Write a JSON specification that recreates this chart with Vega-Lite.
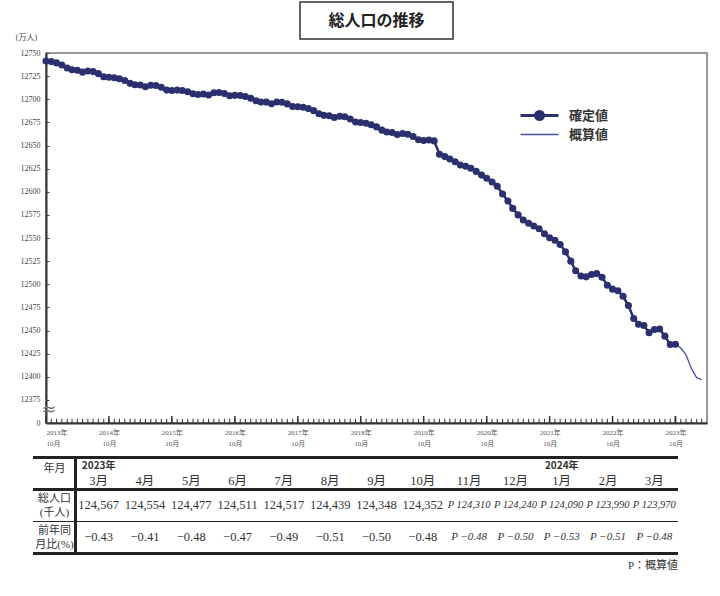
{
  "$schema": "https://vega.github.io/schema/vega-lite/v6.json",
  "background": "white",
  "padding": {"left": 14, "top": 1, "right": 8, "bottom": 4},
  "bounds": "flush",
  "center": true,
  "spacing": 14,
  "config": {
    "view": {"stroke": null},
    "font": "Liberation Serif, Noto Sans CJK JP",
    "text": {"font": "Liberation Serif, Noto Sans CJK JP", "color": "#333"}
  },
  "vconcat": [
    {
      "width": 153,
      "height": 37,
      "view": {"stroke": "#333", "strokeWidth": 1.5, "fill": "white"},
      "data": {"values": [{"t": "総人口の推移"}]},
      "mark": {"type": "text", "font": "Noto Sans CJK JP", "fontSize": 16, "fontWeight": "bold", "color": "#222", "baseline": "middle"},
      "encoding": {"text": {"field": "t"}}
    },
    {
      "width": 661,
      "height": 370,
      "view": {"stroke": "#777", "strokeWidth": 1.5},
      "data": {
        "format": {"parse": {"date": "date"}},
        "values": [
          {"date": "2013-10-01", "v": 12741.4, "kind": "確定値"},
          {"date": "2013-11-01", "v": 12740.7, "kind": "確定値"},
          {"date": "2013-12-01", "v": 12739.3, "kind": "確定値"},
          {"date": "2014-01-01", "v": 12737.0, "kind": "確定値"},
          {"date": "2014-02-01", "v": 12733.7, "kind": "確定値"},
          {"date": "2014-03-01", "v": 12731.8, "kind": "確定値"},
          {"date": "2014-04-01", "v": 12731.4, "kind": "確定値"},
          {"date": "2014-05-01", "v": 12729.3, "kind": "確定値"},
          {"date": "2014-06-01", "v": 12730.6, "kind": "確定値"},
          {"date": "2014-07-01", "v": 12729.9, "kind": "確定値"},
          {"date": "2014-08-01", "v": 12727.7, "kind": "確定値"},
          {"date": "2014-09-01", "v": 12724.4, "kind": "確定値"},
          {"date": "2014-10-01", "v": 12723.7, "kind": "確定値"},
          {"date": "2014-11-01", "v": 12723.3, "kind": "確定値"},
          {"date": "2014-12-01", "v": 12722.1, "kind": "確定値"},
          {"date": "2015-01-01", "v": 12720.2, "kind": "確定値"},
          {"date": "2015-02-01", "v": 12717.2, "kind": "確定値"},
          {"date": "2015-03-01", "v": 12715.6, "kind": "確定値"},
          {"date": "2015-04-01", "v": 12715.4, "kind": "確定値"},
          {"date": "2015-05-01", "v": 12713.6, "kind": "確定値"},
          {"date": "2015-06-01", "v": 12715.2, "kind": "確定値"},
          {"date": "2015-07-01", "v": 12714.9, "kind": "確定値"},
          {"date": "2015-08-01", "v": 12712.9, "kind": "確定値"},
          {"date": "2015-09-01", "v": 12709.9, "kind": "確定値"},
          {"date": "2015-10-01", "v": 12709.5, "kind": "確定値"},
          {"date": "2015-11-01", "v": 12709.9, "kind": "確定値"},
          {"date": "2015-12-01", "v": 12709.4, "kind": "確定値"},
          {"date": "2016-01-01", "v": 12708.2, "kind": "確定値"},
          {"date": "2016-02-01", "v": 12705.9, "kind": "確定値"},
          {"date": "2016-03-01", "v": 12705.1, "kind": "確定値"},
          {"date": "2016-04-01", "v": 12705.6, "kind": "確定値"},
          {"date": "2016-05-01", "v": 12704.6, "kind": "確定値"},
          {"date": "2016-06-01", "v": 12707.0, "kind": "確定値"},
          {"date": "2016-07-01", "v": 12707.3, "kind": "確定値"},
          {"date": "2016-08-01", "v": 12706.1, "kind": "確定値"},
          {"date": "2016-09-01", "v": 12703.8, "kind": "確定値"},
          {"date": "2016-10-01", "v": 12704.2, "kind": "確定値"},
          {"date": "2016-11-01", "v": 12704.0, "kind": "確定値"},
          {"date": "2016-12-01", "v": 12703.0, "kind": "確定値"},
          {"date": "2017-01-01", "v": 12701.1, "kind": "確定値"},
          {"date": "2017-02-01", "v": 12698.3, "kind": "確定値"},
          {"date": "2017-03-01", "v": 12696.9, "kind": "確定値"},
          {"date": "2017-04-01", "v": 12696.9, "kind": "確定値"},
          {"date": "2017-05-01", "v": 12695.2, "kind": "確定値"},
          {"date": "2017-06-01", "v": 12697.0, "kind": "確定値"},
          {"date": "2017-07-01", "v": 12696.8, "kind": "確定値"},
          {"date": "2017-08-01", "v": 12695.0, "kind": "確定値"},
          {"date": "2017-09-01", "v": 12692.1, "kind": "確定値"},
          {"date": "2017-10-01", "v": 12691.9, "kind": "確定値"},
          {"date": "2017-11-01", "v": 12691.3, "kind": "確定値"},
          {"date": "2017-12-01", "v": 12689.9, "kind": "確定値"},
          {"date": "2018-01-01", "v": 12687.7, "kind": "確定値"},
          {"date": "2018-02-01", "v": 12684.4, "kind": "確定値"},
          {"date": "2018-03-01", "v": 12682.6, "kind": "確定値"},
          {"date": "2018-04-01", "v": 12682.2, "kind": "確定値"},
          {"date": "2018-05-01", "v": 12680.2, "kind": "確定値"},
          {"date": "2018-06-01", "v": 12681.6, "kind": "確定値"},
          {"date": "2018-07-01", "v": 12681.0, "kind": "確定値"},
          {"date": "2018-08-01", "v": 12678.7, "kind": "確定値"},
          {"date": "2018-09-01", "v": 12675.5, "kind": "確定値"},
          {"date": "2018-10-01", "v": 12674.9, "kind": "確定値"},
          {"date": "2018-11-01", "v": 12674.1, "kind": "確定値"},
          {"date": "2018-12-01", "v": 12672.5, "kind": "確定値"},
          {"date": "2019-01-01", "v": 12670.1, "kind": "確定値"},
          {"date": "2019-02-01", "v": 12666.6, "kind": "確定値"},
          {"date": "2019-03-01", "v": 12664.6, "kind": "確定値"},
          {"date": "2019-04-01", "v": 12664.0, "kind": "確定値"},
          {"date": "2019-05-01", "v": 12661.8, "kind": "確定値"},
          {"date": "2019-06-01", "v": 12663.0, "kind": "確定値"},
          {"date": "2019-07-01", "v": 12662.2, "kind": "確定値"},
          {"date": "2019-08-01", "v": 12659.7, "kind": "確定値"},
          {"date": "2019-09-01", "v": 12656.3, "kind": "確定値"},
          {"date": "2019-10-01", "v": 12655.5, "kind": "確定値"},
          {"date": "2019-11-01", "v": 12656.0, "kind": "確定値"},
          {"date": "2019-12-01", "v": 12655.0, "kind": "確定値"},
          {"date": "2020-01-01", "v": 12640.5, "kind": "確定値"},
          {"date": "2020-02-01", "v": 12638.0, "kind": "確定値"},
          {"date": "2020-03-01", "v": 12635.5, "kind": "確定値"},
          {"date": "2020-04-01", "v": 12632.5, "kind": "確定値"},
          {"date": "2020-05-01", "v": 12629.0, "kind": "確定値"},
          {"date": "2020-06-01", "v": 12627.5, "kind": "確定値"},
          {"date": "2020-07-01", "v": 12625.5, "kind": "確定値"},
          {"date": "2020-08-01", "v": 12622.0, "kind": "確定値"},
          {"date": "2020-09-01", "v": 12618.0, "kind": "確定値"},
          {"date": "2020-10-01", "v": 12614.6, "kind": "確定値"},
          {"date": "2020-11-01", "v": 12610.5, "kind": "確定値"},
          {"date": "2020-12-01", "v": 12606.0, "kind": "確定値"},
          {"date": "2021-01-01", "v": 12597.5, "kind": "確定値"},
          {"date": "2021-02-01", "v": 12590.0, "kind": "確定値"},
          {"date": "2021-03-01", "v": 12582.0, "kind": "確定値"},
          {"date": "2021-04-01", "v": 12575.0, "kind": "確定値"},
          {"date": "2021-05-01", "v": 12569.5, "kind": "確定値"},
          {"date": "2021-06-01", "v": 12566.0, "kind": "確定値"},
          {"date": "2021-07-01", "v": 12563.0, "kind": "確定値"},
          {"date": "2021-08-01", "v": 12560.0, "kind": "確定値"},
          {"date": "2021-09-01", "v": 12554.5, "kind": "確定値"},
          {"date": "2021-10-01", "v": 12550.2, "kind": "確定値"},
          {"date": "2021-11-01", "v": 12547.5, "kind": "確定値"},
          {"date": "2021-12-01", "v": 12543.0, "kind": "確定値"},
          {"date": "2022-01-01", "v": 12535.0, "kind": "確定値"},
          {"date": "2022-02-01", "v": 12525.0, "kind": "確定値"},
          {"date": "2022-03-01", "v": 12514.5, "kind": "確定値"},
          {"date": "2022-04-01", "v": 12509.0, "kind": "確定値"},
          {"date": "2022-05-01", "v": 12508.0, "kind": "確定値"},
          {"date": "2022-06-01", "v": 12510.5, "kind": "確定値"},
          {"date": "2022-07-01", "v": 12511.5, "kind": "確定値"},
          {"date": "2022-08-01", "v": 12507.5, "kind": "確定値"},
          {"date": "2022-09-01", "v": 12499.0, "kind": "確定値"},
          {"date": "2022-10-01", "v": 12494.7, "kind": "確定値"},
          {"date": "2022-11-01", "v": 12493.0, "kind": "確定値"},
          {"date": "2022-12-01", "v": 12487.0, "kind": "確定値"},
          {"date": "2023-01-01", "v": 12477.0, "kind": "確定値"},
          {"date": "2023-02-01", "v": 12463.0, "kind": "確定値"},
          {"date": "2023-03-01", "v": 12456.7, "kind": "確定値"},
          {"date": "2023-04-01", "v": 12455.4, "kind": "確定値"},
          {"date": "2023-05-01", "v": 12447.7, "kind": "確定値"},
          {"date": "2023-06-01", "v": 12451.1, "kind": "確定値"},
          {"date": "2023-07-01", "v": 12451.7, "kind": "確定値"},
          {"date": "2023-08-01", "v": 12443.9, "kind": "確定値"},
          {"date": "2023-09-01", "v": 12434.8, "kind": "確定値"},
          {"date": "2023-10-01", "v": 12435.2, "kind": "確定値"},
          {"date": "2023-10-01", "v": 12435.2, "kind": "概算値"},
          {"date": "2023-11-01", "v": 12431.0, "kind": "概算値"},
          {"date": "2023-12-01", "v": 12424.0, "kind": "概算値"},
          {"date": "2024-01-01", "v": 12409.0, "kind": "概算値"},
          {"date": "2024-02-01", "v": 12399.0, "kind": "概算値"},
          {"date": "2024-03-01", "v": 12397.0, "kind": "概算値"}
        ]
      },
      "encoding": {
        "x": {
          "field": "date",
          "type": "temporal",
          "title": null,
          "scale": {
            "type": "utc",
            "nice": false,
            "domain": [
              {"year": 2013, "month": 10, "date": 1, "utc": true},
              {"year": 2024, "month": 4, "date": 1, "utc": true}
            ]
          },
          "axis": {
            "title": null,
            "grid": false,
            "ticks": false,
            "domainColor": "#333",
            "domainWidth": 2,
            "values": [
              {"year": 2013, "month": 10, "date": 1, "utc": true},
              {"year": 2014, "month": 10, "date": 1, "utc": true},
              {"year": 2015, "month": 10, "date": 1, "utc": true},
              {"year": 2016, "month": 10, "date": 1, "utc": true},
              {"year": 2017, "month": 10, "date": 1, "utc": true},
              {"year": 2018, "month": 10, "date": 1, "utc": true},
              {"year": 2019, "month": 10, "date": 1, "utc": true},
              {"year": 2020, "month": 10, "date": 1, "utc": true},
              {"year": 2021, "month": 10, "date": 1, "utc": true},
              {"year": 2022, "month": 10, "date": 1, "utc": true},
              {"year": 2023, "month": 10, "date": 1, "utc": true}
            ],
            "labelExpr": "[utcFormat(datum.value, '%Y') + '年', '10月']",
            "labelFont": "Liberation Serif, Noto Sans CJK JP",
            "labelFontSize": 7,
            "labelColor": "#555",
            "labelPadding": 5,
            "labelLineHeight": 11,
            "labelOverlap": false
          }
        },
        "y": {
          "field": "v",
          "type": "quantitative",
          "title": "(万人)",
          "scale": {"domain": [12350, 12750], "nice": false, "zero": false},
          "axis": {
            "values": [12350, 12375, 12400, 12425, 12450, 12475, 12500, 12525, 12550, 12575, 12600, 12625, 12650, 12675, 12700, 12725, 12750],
            "labelExpr": "datum.value == 12350 ? '0' : '' + datum.value",
            "grid": false,
            "tickSize": -3,
            "tickColor": "#444",
            "labelPadding": 9,
            "domainColor": "#333",
            "domainWidth": 2,
            "labelFont": "Liberation Serif",
            "labelFontSize": 8,
            "labelColor": "#444",
            "title": "(万人)",
            "titleAngle": 0,
            "titleFont": "Liberation Serif, Noto Sans CJK JP",
            "titleFontSize": 8,
            "titleFontWeight": "normal",
            "titleColor": "#444",
            "titleAlign": "center",
            "titleBaseline": "middle",
            "titleX": -20,
            "titleY": -16
          }
        }
      },
      "layer": [
        {
          "mark": {"type": "rule", "color": "#333", "strokeWidth": 1},
          "encoding": {
            "y": {"datum": 12350, "type": "quantitative", "title": "(万人)"},
            "y2": {"datum": 12354.5}
          }
        },
        {
          "transform": [{"filter": "utcmonth(datum.date) == 9"}],
          "mark": {"type": "rule", "color": "#333", "strokeWidth": 1.5},
          "encoding": {
            "y": {"datum": 12350, "type": "quantitative", "title": "(万人)"},
            "y2": {"datum": 12357.5}
          }
        },
        {
          "transform": [{"filter": "datum.kind == '概算値'"}],
          "mark": {"type": "line", "strokeWidth": 1.3},
          "encoding": {
            "color": {
              "field": "kind",
              "type": "nominal",
              "scale": {"domain": ["確定値", "概算値"], "range": ["#2b2f6e", "#4a4f9e"]},
              "legend": {
                "orient": "none",
                "legendX": 487,
                "legendY": 107,
                "title": null,
                "labelFont": "Noto Sans CJK JP",
                "labelFontSize": 13,
                "labelFontWeight": "bold",
                "labelColor": "#333",
                "labelOffset": 23,
                "labelBaseline": "middle",
                "rowPadding": 2,
                "symbolSize": 1444,
                "encode": {
                  "symbols": {
                    "update": {
                      "shape": {"signal": "datum.value === '確定値' ? 'M-1,0L1,0M0.21,0A0.21,0.21,0,1,1,-0.21,0A0.21,0.21,0,1,1,0.21,0' : 'M-1,0L1,0'"},
                      "fill": {"signal": "datum.value === '確定値' ? '#2b2f6e' : 'transparent'"},
                      "stroke": {"signal": "datum.value === '確定値' ? '#2b2f6e' : '#5a5ea6'"},
                      "strokeWidth": {"signal": "datum.value === '確定値' ? 3 : 1.3"},
                      "opacity": {"value": 1}
                    }
                  }
                }
              }
            }
          }
        },
        {
          "transform": [{"filter": "datum.kind == '確定値'"}],
          "mark": {"type": "line", "strokeWidth": 2.5},
          "encoding": {"color": {"field": "kind", "type": "nominal"}}
        },
        {
          "transform": [{"filter": "datum.kind == '確定値'"}],
          "mark": {"type": "point", "filled": true, "size": 50, "opacity": 1},
          "encoding": {"color": {"field": "kind", "type": "nominal"}}
        },
        {
          "transform": [{"filter": "datum.kind == '確定値' && utcyear(datum.date) == 2013 && utcmonth(datum.date) == 9"}],
          "mark": {"type": "text", "fontSize": 18, "color": "#777", "font": "DejaVu Sans", "dx": 3, "text": "≈"},
          "encoding": {
            "y": {"datum": 12364, "type": "quantitative", "title": "(万人)"}
          }
        }
      ]
    },
    {
      "width": 602,
      "height": 116,
      "data": {
        "values": [
          {"col": "2023-03", "yr": "2023年", "m": "3月", "pop": "124,567", "chg": "−0.43", "p": false},
          {"col": "2023-04", "yr": "", "m": "4月", "pop": "124,554", "chg": "−0.41", "p": false},
          {"col": "2023-05", "yr": "", "m": "5月", "pop": "124,477", "chg": "−0.48", "p": false},
          {"col": "2023-06", "yr": "", "m": "6月", "pop": "124,511", "chg": "−0.47", "p": false},
          {"col": "2023-07", "yr": "", "m": "7月", "pop": "124,517", "chg": "−0.49", "p": false},
          {"col": "2023-08", "yr": "", "m": "8月", "pop": "124,439", "chg": "−0.51", "p": false},
          {"col": "2023-09", "yr": "", "m": "9月", "pop": "124,348", "chg": "−0.50", "p": false},
          {"col": "2023-10", "yr": "", "m": "10月", "pop": "124,352", "chg": "−0.48", "p": false},
          {"col": "2023-11", "yr": "", "m": "11月", "pop": "P 124,310", "chg": "P −0.48", "p": true},
          {"col": "2023-12", "yr": "", "m": "12月", "pop": "P 124,240", "chg": "P −0.50", "p": true},
          {"col": "2024-01", "yr": "2024年", "m": "1月", "pop": "P 124,090", "chg": "P −0.53", "p": true},
          {"col": "2024-02", "yr": "", "m": "2月", "pop": "P 123,990", "chg": "P −0.51", "p": true},
          {"col": "2024-03", "yr": "", "m": "3月", "pop": "P 123,970", "chg": "P −0.48", "p": true}
        ]
      },
      "encoding": {
        "x": {
          "field": "col",
          "type": "ordinal",
          "title": "P：概算値",
          "scale": {
            "domain": ["2023-03", "2023-04", "2023-05", "2023-06", "2023-07", "2023-08", "2023-09", "2023-10", "2023-11", "2023-12", "2024-01", "2024-02", "2024-03"],
            "paddingInner": 0,
            "paddingOuter": 0
          },
          "axis": {
            "labels": false,
            "ticks": false,
            "domain": false,
            "grid": false,
            "title": "P：概算値",
            "titleAnchor": "end",
            "titleFont": "Liberation Serif, Noto Sans CJK JP",
            "titleFontSize": 11,
            "titleFontWeight": "normal",
            "titleColor": "#333",
            "titlePadding": 6
          }
        }
      },
      "layer": [
        {
          "transform": [{"filter": "datum.yr != ''"}],
          "mark": {"type": "text", "font": "Noto Sans CJK JP", "fontSize": 10, "fontWeight": "bold", "color": "#333", "baseline": "middle"},
          "encoding": {
            "y": {
              "datum": "head",
              "type": "ordinal",
              "title": null,
              "bandPosition": 0.28,
              "scale": {"domain": ["head", "pop", "chg"], "paddingInner": 0, "paddingOuter": 0.3125, "align": 1},
              "axis": {
                "title": null,
                "domain": false,
                "tickBand": "extent",
                "tickSize": 43,
                "tickColor": "#222",
                "tickWidth": {"condition": {"test": "datum.index < 0.01 || datum.index > 0.99", "value": 3}, "value": 1.2},
                "tickOpacity": {"condition": {"test": "abs(datum.index - 1/3) < 0.01", "value": 0}, "value": 1},
                "grid": true,
                "gridColor": "#222",
                "gridOpacity": 1,
                "gridWidth": {"condition": {"test": "datum.index < 0.01 || datum.index > 0.99", "value": 3}, "value": 1.2},
                "labelExpr": "datum.value == 'head' ? '年月' : datum.value == 'pop' ? ['総人口', '(千人)'] : datum.value == 'chg' ? ['前年同', '月比(%)'] : ''",
                "labelAlign": "center",
                "labelBaseline": "middle",
                "labelOffset": {"condition": {"test": "datum.value == 'head'", "value": -5}, "value": -7},
                "labelPadding": -21.5,
                "labelFont": "Liberation Serif, Noto Sans CJK JP",
                "labelFontSize": 11,
                "labelLineHeight": 14,
                "labelColor": "#333"
              }
            },
            "text": {"field": "yr"}
          }
        },
        {
          "mark": {"type": "text", "fontSize": 12.5, "baseline": "middle"},
          "encoding": {
            "y": {"datum": "head", "type": "ordinal", "title": null, "bandPosition": 0.76},
            "text": {"field": "m"}
          }
        },
        {
          "transform": [{"filter": "!datum.p"}],
          "mark": {"type": "text", "fontSize": 12.5, "baseline": "middle"},
          "encoding": {
            "y": {"datum": "pop", "type": "ordinal", "title": null},
            "text": {"field": "pop"}
          }
        },
        {
          "transform": [{"filter": "datum.p"}],
          "mark": {"type": "text", "fontSize": 10.5, "fontStyle": "italic", "baseline": "middle"},
          "encoding": {
            "y": {"datum": "pop", "type": "ordinal", "title": null},
            "text": {"field": "pop"}
          }
        },
        {
          "transform": [{"filter": "!datum.p"}],
          "mark": {"type": "text", "fontSize": 12.5, "baseline": "middle"},
          "encoding": {
            "y": {"datum": "chg", "type": "ordinal", "title": null},
            "text": {"field": "chg"}
          }
        },
        {
          "transform": [{"filter": "datum.p"}],
          "mark": {"type": "text", "fontSize": 11, "fontStyle": "italic", "baseline": "middle"},
          "encoding": {
            "y": {"datum": "chg", "type": "ordinal", "title": null},
            "text": {"field": "chg"}
          }
        },
        {
          "mark": {"type": "rule", "color": "#222", "strokeWidth": 1.5},
          "encoding": {
            "x": {"datum": "2023-03", "type": "ordinal", "title": "P：概算値", "bandPosition": 0},
            "y": {"datum": "head", "type": "ordinal", "title": null, "bandPosition": 0},
            "y2": {"datum": "chg", "bandPosition": 1}
          }
        }
      ]
    }
  ]
}
